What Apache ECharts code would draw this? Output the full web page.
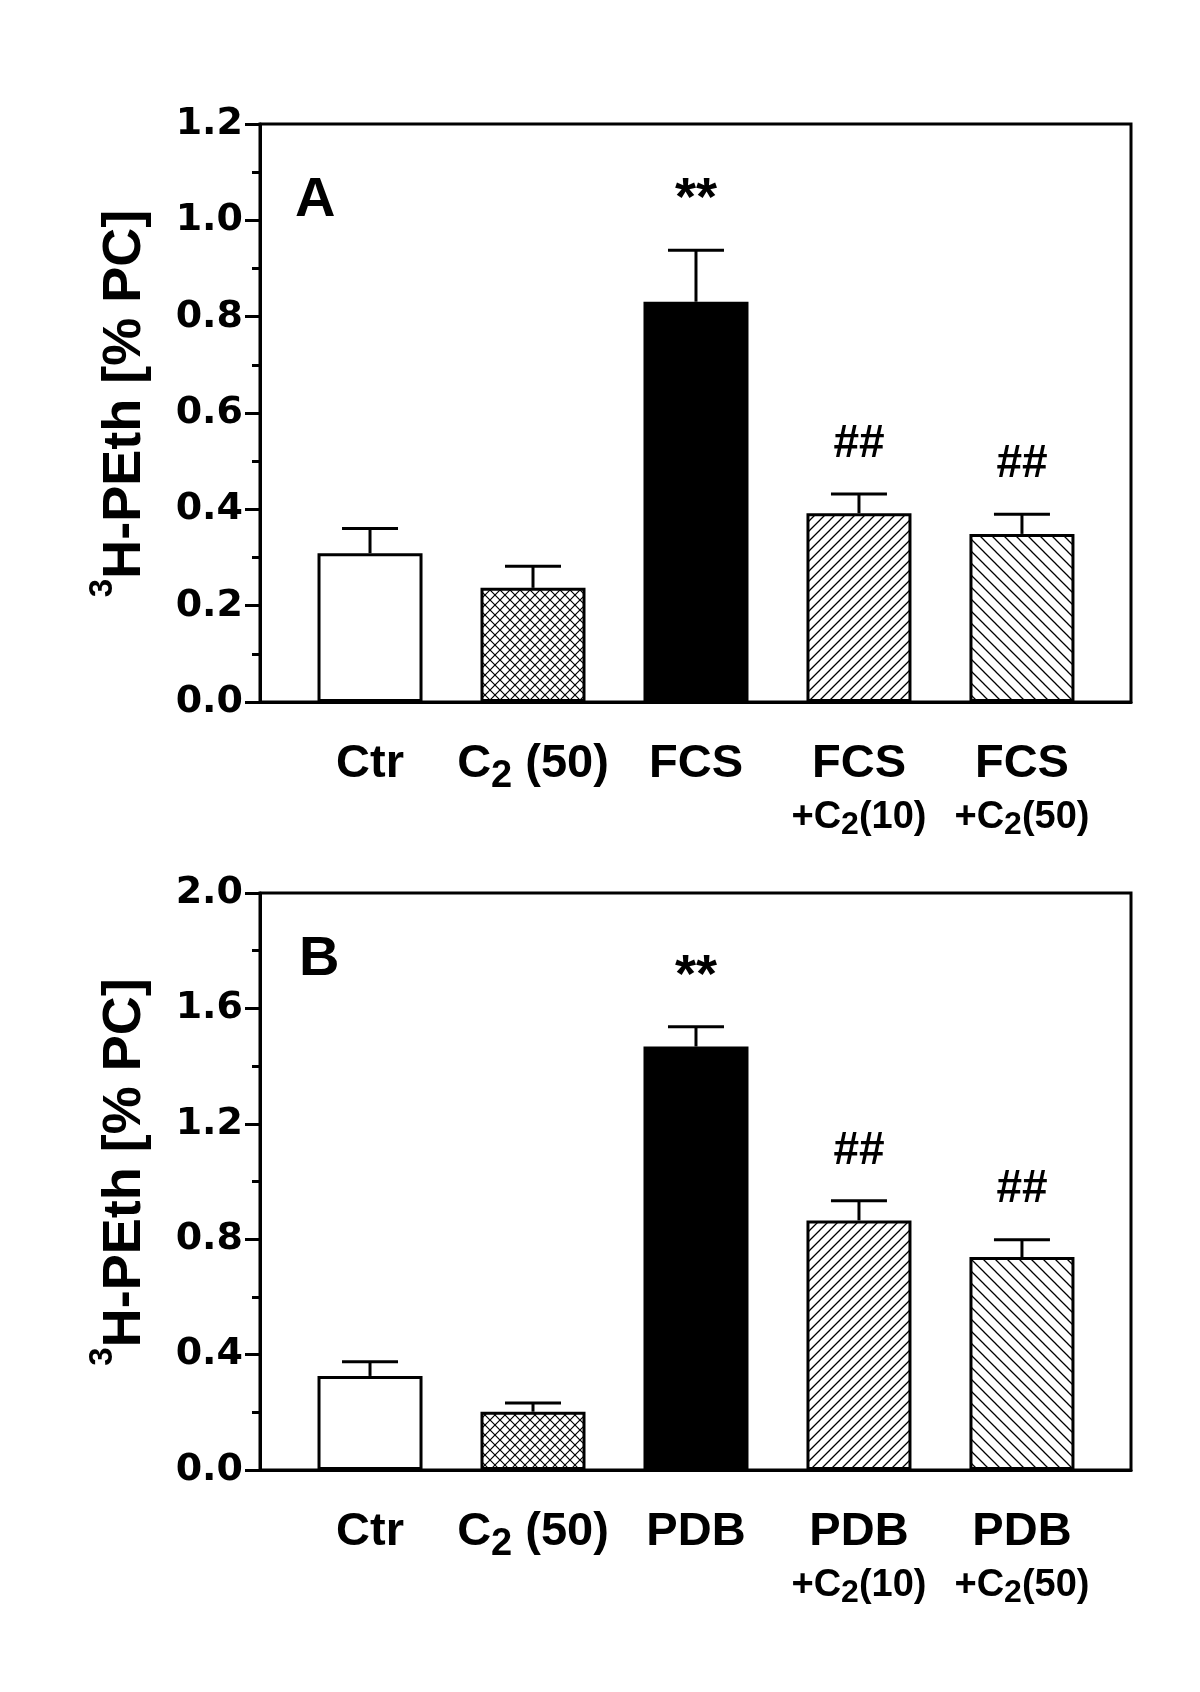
<!DOCTYPE html>
<html>
<head>
<meta charset="utf-8">
<script src="https://cdn.jsdelivr.net/npm/echarts@6/dist/echarts.min.js"></script>
<style>html,body{margin:0;padding:0;background:#fff}#c{width:1200px;height:1692px}</style>
</head>
<body>
<div id="c"></div>
<script>
// ---------- data ----------
const categoriesA = ['Ctr', 'C_2 (50)', 'FCS', 'FCS\n+C_2(10)', 'FCS\n+C_2(50)'];
const categoriesB = ['Ctr', 'C_2 (50)', 'PDB', 'PDB\n+C_2(10)', 'PDB\n+C_2(50)'];
const xPos = [0, 1, 2, 3, 4];
const meanA = [0.309, 0.237, 0.831, 0.392, 0.349];
const semA  = [0.051, 0.045, 0.107, 0.040, 0.041];
const meanB = [0.326, 0.202, 1.468, 0.865, 0.738];
const semB  = [0.049, 0.030, 0.068, 0.068, 0.060];
const sigA = ['', '', '**', '##', '##'];
const sigB = ['', '', '**', '##', '##'];
const yTicksA = [0.0, 0.2, 0.4, 0.6, 0.8, 1.0, 1.2];
const yTicksB = [0.0, 0.4, 0.8, 1.2, 1.6, 2.0];
const panelLetters = ['A', 'B'];
const yTitle = '{sup|3}{t|H-PEth [% PC]}';

// ---------- styles ----------
function hatch(size, dirs, lw) {
  const c = document.createElement('canvas');
  c.width = c.height = size;
  const g = c.getContext('2d');
  g.fillStyle = '#fff'; g.fillRect(0, 0, size, size);
  g.strokeStyle = '#000'; g.lineWidth = lw;
  dirs.forEach(d => {
    g.beginPath();
    if (d === '/') {
      g.moveTo(-1, size + 1); g.lineTo(size + 1, -1);
      g.moveTo(-1, 1); g.lineTo(1, -1);
      g.moveTo(size - 1, size + 1); g.lineTo(size + 1, size - 1);
    } else {
      g.moveTo(-1, -1); g.lineTo(size + 1, size + 1);
      g.moveTo(size - 1, -1); g.lineTo(size + 1, 1);
      g.moveTo(-1, size - 1); g.lineTo(1, size + 1);
    }
    g.stroke();
  });
  return { image: c, repeat: 'repeat' };
}
const fills = ['#ffffff', hatch(10, ['/', '\\'], 1.2), '#000000', hatch(10, ['/'], 1.3), hatch(12, ['\\'], 1.3)];

const FONT = 'Liberation Sans';
const xRich = {
  a:  { fontFamily: FONT, fontWeight: 'bold', fontSize: 47, lineHeight: 53, color: '#000' },
  as: { fontFamily: FONT, fontWeight: 'bold', fontSize: 38, lineHeight: 53, color: '#000', padding: [24, 0, 0, 0] },
  b:  { fontFamily: FONT, fontWeight: 'bold', fontSize: 38, lineHeight: 53, color: '#000' },
  bs: { fontFamily: FONT, fontWeight: 'bold', fontSize: 32, lineHeight: 53, color: '#000', padding: [16, 0, 0, 0] }
};
function richLabel(s) {
  return s.split('\n').map((line, i) => {
    const k = i === 0 ? 'a' : 'b';
    return line.split('_2').map(seg => seg ? '{' + k + '|' + seg + '}' : '').join('{' + k + 's|2}');
  }).join('\n');
}

function makeAxes(idx, cats, ticks) {
  const xAxis = {
    gridIndex: idx, type: 'value', min: -0.675, max: 4.669,
    axisLine: { show: true, onZero: false, lineStyle: { color: '#000', width: 3 } },
    axisTick: { show: false }, splitLine: { show: false },
    axisLabel: {
      customValues: xPos, margin: 36, color: '#000', rich: xRich,
      formatter: v => richLabel(cats[Math.round(v)])
    }
  };
  const yAxis = {
    gridIndex: idx, type: 'value', min: ticks[0], max: ticks[ticks.length - 1],
    interval: +(ticks[1] - ticks[0]).toFixed(3),
    axisLine: { show: true, onZero: false, lineStyle: { color: '#000', width: 3 } },
    axisTick: { show: true, inside: false, length: 15, lineStyle: { color: '#000', width: 3 } },
    minorTick: { show: true, splitNumber: 2, length: 8, lineStyle: { color: '#000', width: 3 } },
    splitLine: { show: false }, minorSplitLine: { show: false },
    axisLabel: { formatter: v => v.toFixed(1), fontFamily: 'DejaVu Sans', fontWeight: 'bold', fontSize: 38, color: '#000', margin: 17 },
    name: yTitle, nameLocation: 'middle', nameGap: 107,
    nameTextStyle: {
      color: '#000', padding: [0, 0, 0, 19],
      rich: {
        t:   { fontFamily: FONT, fontWeight: 'bold', fontSize: 54, lineHeight: 56, color: '#000' },
        sup: { fontFamily: FONT, fontWeight: 'bold', fontSize: 33, lineHeight: 56, color: '#000', padding: [0, 0, 44, 0] }
      }
    }
  };
  return { xAxis, yAxis };
}

function makeSeries(idx, means, sems, sigs) {
  const bar = {
    type: 'bar', xAxisIndex: idx, yAxisIndex: idx, barWidth: 105,
    itemStyle: { borderColor: '#000', borderWidth: 3 },
    emphasis: { disabled: true },
    data: xPos.map((x, i) => ({ value: [x, means[i]], itemStyle: { color: fills[i] } }))
  };
  const err = {
    type: 'custom', xAxisIndex: idx, yAxisIndex: idx, z: 5,
    data: xPos.map((x, i) => [x, means[i], sems[i]]),
    renderItem: (params, api) => {
      const x = api.value(0), m = api.value(1), e = api.value(2);
      const p0 = api.coord([x, m]);
      const p1 = api.coord([x, m + e]);
      const cap = 28;
      const s = sigs[params.dataIndex];
      return {
        type: 'group',
        children: [
          { type: 'line', shape: { x1: p0[0], y1: p0[1], x2: p1[0], y2: p1[1] }, style: { stroke: '#000', lineWidth: 3 } },
          { type: 'line', shape: { x1: p1[0] - cap, y1: p1[1], x2: p1[0] + cap, y2: p1[1] }, style: { stroke: '#000', lineWidth: 3 } },
          { type: 'text', x: p1[0], y: p1[1] - 50, style: { text: s, fontFamily: FONT, fontWeight: 'bold', fontSize: s === '**' ? 54 : 46, fill: '#000', align: 'center', verticalAlign: 'middle' } }
        ]
      };
    }
  };
  return [bar, err];
}

const axA = makeAxes(0, categoriesA, yTicksA);
const axB = makeAxes(1, categoriesB, yTicksB);

const option = {
  backgroundColor: '#fff',
  animation: false,
  title: [
    { text: panelLetters[0], left: 290, top: 168, textStyle: { fontFamily: FONT, fontWeight: 'bold', fontSize: 56, color: '#000' } },
    { text: panelLetters[1], left: 294, top: 927, textStyle: { fontFamily: FONT, fontWeight: 'bold', fontSize: 56, color: '#000' } }
  ],
  grid: [
    { left: 260, right: 69, top: 124, height: 578, show: true, borderColor: '#000', borderWidth: 3, backgroundColor: 'transparent', outerBoundsMode: 'none', containLabel: false },
    { left: 260, right: 69, top: 893, height: 577, show: true, borderColor: '#000', borderWidth: 3, backgroundColor: 'transparent', outerBoundsMode: 'none', containLabel: false }
  ],
  xAxis: [axA.xAxis, axB.xAxis],
  yAxis: [axA.yAxis, axB.yAxis],
  series: [].concat(makeSeries(0, meanA, semA, sigA), makeSeries(1, meanB, semB, sigB))
};

const chart = echarts.init(document.getElementById('c'), null, { renderer: 'canvas' });
chart.setOption(option);
</script>
</body>
</html>
